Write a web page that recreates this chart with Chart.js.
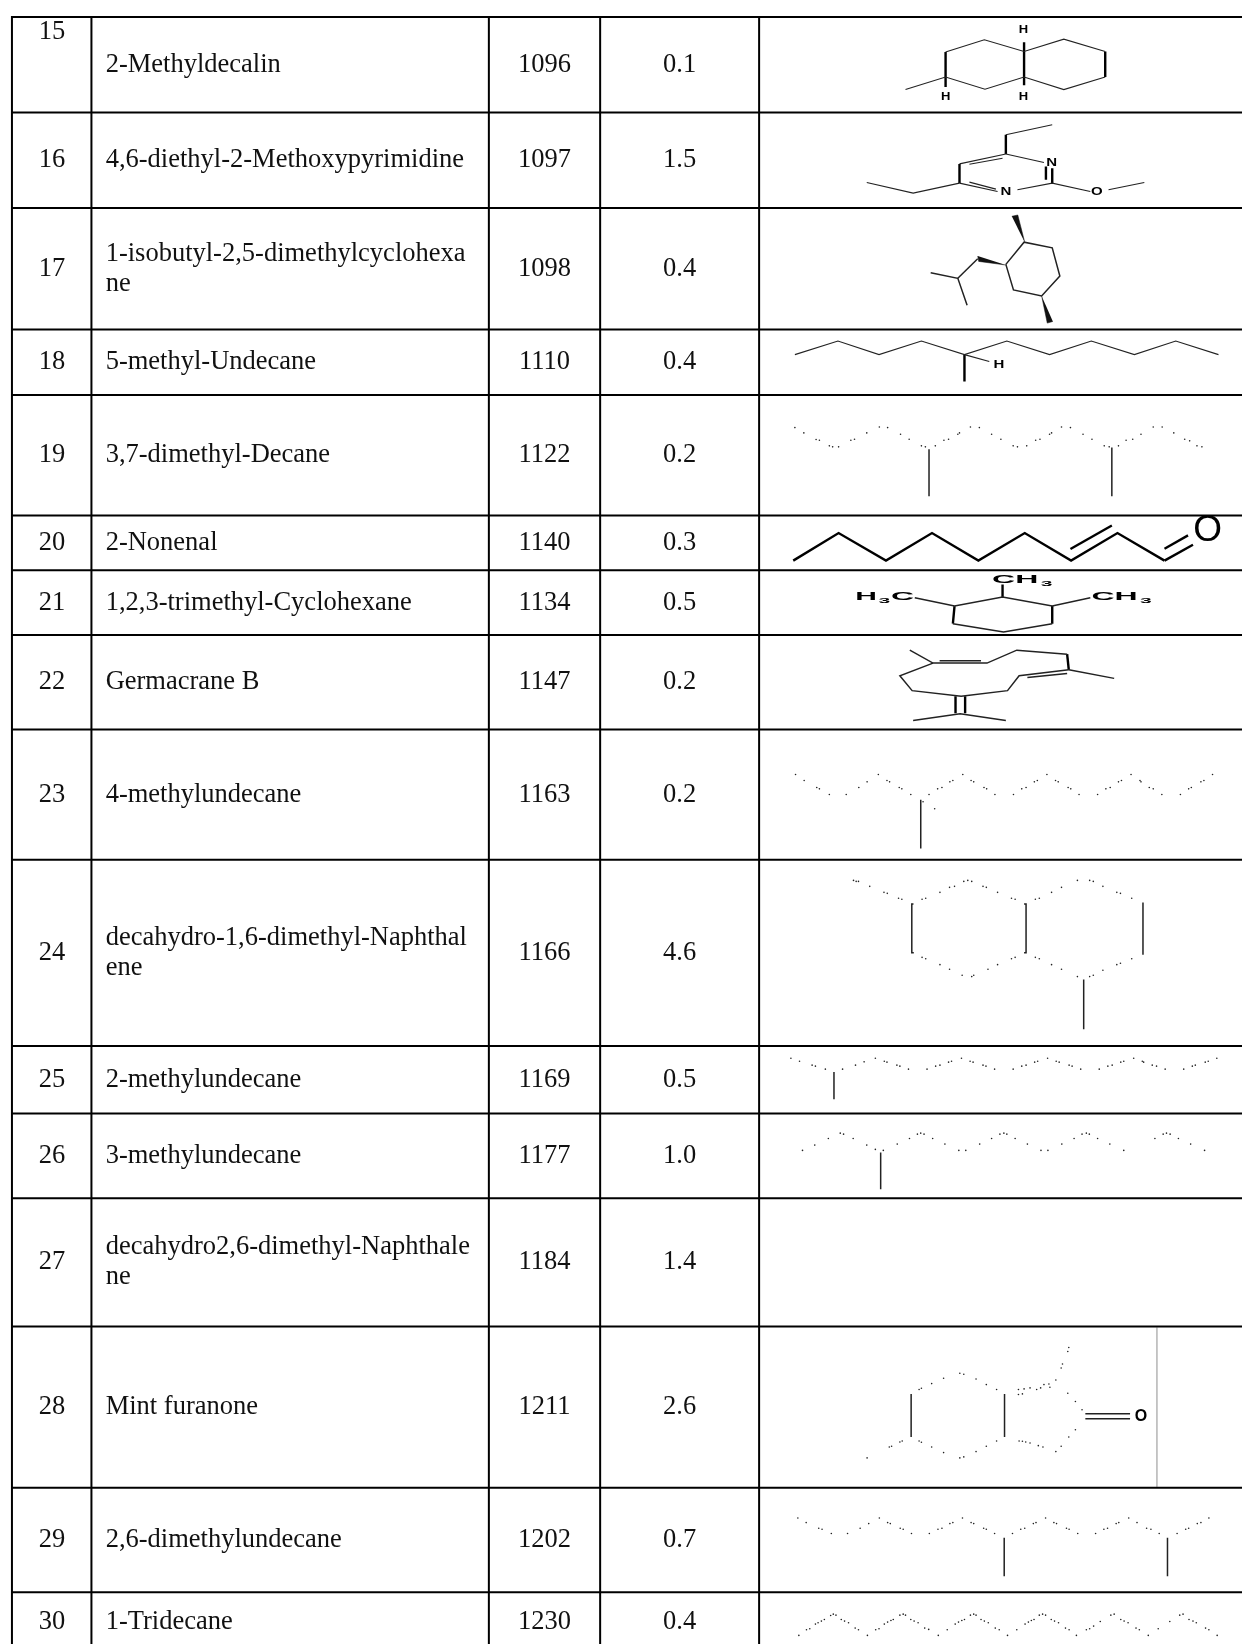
<!DOCTYPE html>
<html>
<head>
<meta charset="utf-8">
<title>Compounds</title>
<script src="https://cdn.jsdelivr.net/npm/chart.js@4"></script>
<style>
  html, body { margin: 0; padding: 0; background: #fff; overflow: hidden; }
  canvas { display: block; }
</style>
</head>
<body>
<canvas id="chart" width="1246" height="1648"></canvas>
<script>
// table content
const rowNumbers = [15, 16, 17, 18, 19, 20, 21, 22, 23, 24, 25, 26, 27, 28, 29, 30];
const compoundNames = [
    '2-Methyldecalin',
    '4,6-diethyl-2-Methoxypyrimidine',
    '1-isobutyl-2,5-dimethylcyclohexa\nne',
    '5-methyl-Undecane',
    '3,7-dimethyl-Decane',
    '2-Nonenal',
    '1,2,3-trimethyl-Cyclohexane',
    'Germacrane B',
    '4-methylundecane',
    'decahydro-1,6-dimethyl-Naphthal\nene',
    '2-methylundecane',
    '3-methylundecane',
    'decahydro2,6-dimethyl-Naphthale\nne',
    'Mint furanone',
    '2,6-dimethylundecane',
    '1-Tridecane',
];
const retentionIndex = ['1096', '1097', '1098', '1110', '1122', '1140', '1134', '1147', '1163', '1166', '1169', '1177', '1184', '1211', '1202', '1230'];
const areaPercent = ['0.1', '1.5', '0.4', '0.4', '0.2', '0.3', '0.5', '0.2', '0.2', '4.6', '0.5', '1.0', '1.4', '2.6', '0.7', '0.4'];

// rules, in page units (the last edge falls below the page)
const rowEdges = [13, 109, 205, 327, 393, 514, 569, 634, 729, 860, 1047, 1115, 1200, 1329, 1491, 1596, 1656];
const columnEdges = [8, 88, 488, 600, 760];

const crop = (left, top, pts) => pts.map(p => ({x: left + p[0] / 3, y: top + p[1] / 3}));
const cropA = pts => crop(760, 0, pts);
const cropB = pts => crop(760, 330, pts);
const cropC = pts => crop(760, 730, pts);
const cropD = pts => crop(760, 1180, pts);

const thinBonds = [
    // 15
    cropA([[442,258],[563,220],[682,257],[800,220],[920,258],[1045,220]]),
    cropA([[563,145],[680,108],[800,143],[920,106],[1045,143]]),
    // 16
    cropA([[885,364],[745,394]]),
    cropA([[745,452],[605,482]]),
    cropA([[635,483],[735,465]]),
    cropA([[605,540],[465,570],[325,538]]),
    cropA([[605,540],[720,565]]),
    cropA([[635,537],[715,558]]),
    cropA([[745,452],[860,478]]),
    cropA([[780,560],[885,540],[1000,565]]),
    cropA([[1055,560],[1163,538]]),
    // 18
    cropB([[108,67],[238,26],[362,67],[490,26],[620,67],[748,26],[877,67],[1003,26],[1133,67],[1258,26],[1387,67]]),
    cropB([[620,67],[695,88]]),
];
const mediumBonds = [
    // 17
    cropA([[518,810],[600,827],[628,908]]),
    cropA([[600,827],[660,768]]),
    cropA([[745,785],[800,718],[885,735],[908,820],[853,880],[768,862],[745,785]]),
    // 21
    cropB([[470,800],[590,825],[735,798],[885,825],[1000,800]]),
    cropB([[585,878],[738,903],[885,878]]),
    // 22
    cropB([[455,958],[525,997],[688,997],[778,958],[930,970]]),
    cropB([[545,990],[670,990]]),
    cropB([[935,1017],[1072,1043]]),
    cropB([[935,1017],[785,1035],[750,1080],[610,1097],[462,1080],[425,1035],[525,997]]),
    cropB([[810,1040],[930,1028]]),
    cropB([[465,1170],[607,1150],[745,1170]]),
    // 19, 23 to 26, 28, 29 side chains
    cropB([[513,352],[513,494]]),
    cropB([[1065,347],[1065,494]]),
    cropC([[488,209],[488,356]]),
    cropC([[466,523],[461,523],[461,670],[467,670]]),
    cropC([[800,523],[806,523],[806,670],[800,670]]),
    cropC([[1159,519],[1159,676]]),
    cropC([[980,751],[980,901]]),
    cropC([[226,1030],[226,1112]]),
    cropC([[367,1272],[367,1383]]),
    cropD([[459,650],[459,780]]),
    cropD([[741,650],[741,780]]),
    cropD([[985,710],[1120,710]]),
    cropD([[985,725],[1120,725]]),
    cropD([[740,1084],[740,1200]]),
    cropD([[1233,1084],[1233,1200]]),
];
const heavyBonds = [
    // 15
    cropA([[563,145],[563,250]]),
    cropA([[800,115],[800,245]]),
    cropA([[1045,143],[1045,220]]),
    // 16
    cropA([[745,394],[745,452]]),
    cropA([[605,482],[605,540]]),
    cropA([[885,495],[885,540]]),
    cropA([[866,490],[866,530]]),
    // 18
    cropB([[620,67],[620,148]]),
    // 20
    cropB([[103,688],[240,605],[383,688],[522,605],[662,688],[802,605],[942,688],[1082,605],[1224,688]]),
    cropB([[940,653],[1065,582]]),
    cropB([[1224,652],[1295,612]]),
    cropB([[1224,688],[1310,640]]),
    // 21
    cropB([[735,798],[735,760]]),
    cropB([[590,825],[585,878]]),
    cropB([[885,825],[885,878]]),
    // 22
    cropB([[930,970],[935,1017]]),
    cropB([[593,1097],[593,1148]]),
    cropB([[622,1097],[622,1148]]),
];
const wedgeBonds = [
    cropA([[763,640],[781,636],[802,718]]),
    cropA([[660,760],[663,776],[745,787]]),
    cropA([[853,880],[870,962],[887,957]]),
];

const dots19 = cropB([[108,287],[135,303],[172,323],[182,325],[212,342],[222,345],[240,345],[277,325],[288,322],[325,303],[363,285],[388,287],[427,307],[453,322],[490,342],[502,345],[532,342],[558,325],[572,322],[600,307],[605,303],[638,285],[665,287],[702,307],[730,322],[767,342],[780,345],[808,342],[835,325],[848,322],[877,307],[883,303],[913,285],[940,287],[978,307],[1005,322],[1042,342],[1057,345],[1085,342],[1108,325],[1128,322],[1153,307],[1190,285],[1217,285],[1252,303],[1285,322],[1300,327],[1322,342],[1337,345]]);
const dots23 = cropC([[110,133],[136,151],[174,172],[182,176],[212,193],[263,193],[301,172],[326,155],[360,133],[386,151],[394,155],[423,172],[431,176],[458,193],[513,193],[539,176],[552,172],[576,155],[585,151],[615,133],[640,151],[648,155],[679,172],[687,176],[712,193],[768,193],[793,176],[806,172],[831,155],[840,151],[869,133],[895,151],[903,155],[933,172],[941,176],[966,193],[1022,193],[1047,176],[1060,172],[1085,155],[1094,151],[1123,133],[1150,151],[1153,155],[1178,172],[1190,176],[1216,193],[1272,193],[1297,176],[1305,172],[1334,155],[1343,151],[1369,133],[495,215],[530,236]]);
const dots24 = cropC([[285,452],[293,455],[300,455],[334,470],[377,488],[387,491],[421,506],[431,509],[492,509],[503,506],[546,488],[575,473],[590,470],[618,455],[630,452],[642,455],[676,470],[686,473],[720,488],[762,506],[773,509],[834,509],[846,506],[883,488],[913,473],[961,452],[998,452],[1009,455],[1038,470],[1080,488],[1091,491],[1125,506],[492,684],[503,688],[546,706],[575,720],[613,738],[642,742],[648,738],[691,720],[720,706],[762,688],[773,684],[834,684],[846,688],[883,706],[913,720],[961,742],[998,742],[1009,738],[1038,723],[1080,706],[1091,702],[1125,688]]);
const dots25 = cropC([[96,988],[122,997],[160,1009],[170,1012],[200,1021],[252,1021],[291,1009],[317,999],[351,988],[378,997],[386,1000],[416,1009],[425,1012],[451,1021],[507,1021],[533,1012],[546,1009],[572,1000],[581,997],[611,988],[637,997],[646,1000],[676,1009],[685,1012],[711,1021],[767,1021],[793,1012],[806,1009],[832,1000],[841,997],[871,988],[897,997],[906,1000],[936,1009],[945,1012],[971,1021],[1027,1021],[1053,1012],[1066,1009],[1092,1000],[1101,997],[1131,988],[1157,997],[1161,1000],[1187,1009],[1200,1012],[1226,1021],[1282,1021],[1308,1012],[1317,1009],[1347,1000],[1356,997],[1382,988]]);
const dots26 = cropC([[131,1266],[168,1250],[209,1230],[245,1214],[255,1217],[284,1230],[325,1250],[351,1263],[375,1266],[417,1247],[454,1230],[478,1217],[488,1214],[498,1217],[524,1230],[561,1247],[603,1266],[624,1266],[666,1247],[702,1230],[727,1217],[739,1214],[748,1217],[773,1230],[810,1247],[851,1266],[872,1266],[914,1247],[951,1230],[975,1217],[988,1214],[997,1217],[1022,1230],[1059,1247],[1101,1266],[1195,1230],[1220,1217],[1230,1214],[1241,1217],[1266,1230],[1303,1247],[1345,1266]]);
const dots28 = cropD([[326,843],[393,810],[400,808],[425,795],[432,792],[483,792],[490,796],[521,810],[557,827],[606,843],[618,840],[655,824],[686,808],[717,792],[785,792],[795,793],[805,795],[818,798],[843,806],[857,810],[896,824],[912,808],[935,780],[955,758],[483,637],[490,633],[521,619],[557,603],[606,588],[618,591],[655,605],[686,622],[717,637],[783,652],[795,650],[783,637],[800,635],[818,632],[838,637],[850,632],[860,622],[875,620],[878,630],[896,608],[912,572],[916,560],[932,522],[935,510],[932,648],[955,673],[975,698]]);
const dots29 = cropD([[117,1024],[142,1038],[180,1055],[190,1058],[218,1071],[267,1071],[305,1055],[331,1041],[363,1024],[388,1038],[396,1041],[426,1055],[435,1058],[460,1071],[514,1071],[540,1058],[552,1055],[576,1041],[585,1038],[614,1024],[640,1038],[648,1041],[678,1055],[686,1058],[711,1071],[765,1071],[790,1058],[802,1055],[828,1041],[836,1038],[865,1024],[890,1038],[898,1041],[928,1055],[936,1058],[962,1071],[1016,1071],[1041,1058],[1052,1055],[1078,1041],[1086,1038],[1116,1024],[1141,1038],[1170,1055],[1183,1058],[1208,1071],[1262,1071],[1288,1058],[1297,1055],[1323,1041],[1334,1038],[1358,1024]]);
const dots30 = cropD([[120,1378],[143,1361],[153,1358],[170,1344],[178,1340],[188,1335],[197,1330],[216,1318],[224,1314],[232,1317],[248,1330],[258,1335],[270,1340],[290,1356],[300,1361],[327,1378],[352,1361],[362,1358],[378,1344],[388,1338],[398,1333],[405,1330],[425,1317],[435,1314],[442,1317],[458,1330],[468,1335],[480,1340],[500,1356],[512,1360],[541,1378],[568,1361],[592,1344],[602,1338],[612,1333],[620,1330],[638,1317],[648,1314],[655,1317],[670,1330],[680,1335],[692,1340],[713,1356],[725,1361],[750,1378],[778,1361],[803,1344],[813,1338],[822,1333],[830,1330],[846,1317],[856,1314],[865,1317],[882,1330],[892,1335],[904,1340],[925,1356],[936,1361],[958,1378],[988,1361],[998,1358],[1010,1350],[1030,1336],[1062,1317],[1072,1314],[1092,1330],[1102,1335],[1114,1340],[1138,1356],[1148,1361],[1175,1378],[1205,1358],[1240,1336],[1270,1317],[1280,1314],[1298,1330],[1310,1335],[1320,1340],[1348,1356],[1358,1361],[1383,1378]]);
const dotSeries = [dots19, dots23, dots24, dots25, dots26, dots28, dots29, dots30];

// atom labels: text, crop point, px size, x stretch
const atomLabels = [
    ['H', cropA([[798,80]])[0], 10, 1.3],
    ['H', cropA([[563,282]])[0], 10, 1.3],
    ['H', cropA([[798,282]])[0], 10, 1.3],
    ['N', cropA([[883,480]])[0], 10, 1.5],
    ['N', cropA([[745,568]])[0], 10, 1.5],
    ['O', cropA([[1020,568]])[0], 10, 1.5],
    ['H', cropB([[724,100]])[0], 10, 1.5],
    ['CH', cropB([[773,747]])[0], 10, 3.2],
    ['3', cropB([[868,759]])[0], 7, 3],
    ['H', cropB([[323,798]])[0], 10, 3],
    ['3', cropB([[378,810]])[0], 7, 3],
    ['C', cropB([[433,798]])[0], 10, 3.2],
    ['CH', cropB([[1073,799]])[0], 10, 3.2],
    ['3', cropB([[1168,810]])[0], 7, 3],
];

const SERIF = '"Liberation Serif", "Times New Roman", serif';
const SANS = '"Liberation Sans", Arial, sans-serif';

const bondSet = (data, width, color) => ({
    data, showLine: true, borderColor: color, borderWidth: width,
    pointRadius: 0, tension: 0, fill: false,
});

const datasets = [];
rowEdges.forEach(y => datasets.push(bondSet([{x: columnEdges[0], y}, {x: 1246, y}], 2, '#000')));
columnEdges.forEach(x => datasets.push(bondSet([{x, y: rowEdges[0] - 1}, {x, y: 1648}], 2, '#000')));
// stray rule inside row 28
datasets.push(bondSet(cropD([[1201,450],[1201,930]]), 1, '#bdbdbd'));

thinBonds.forEach(b => datasets.push(bondSet(b, 1.1, '#222')));
mediumBonds.forEach(b => datasets.push(bondSet(b, 1.5, '#222')));
heavyBonds.forEach(b => datasets.push(bondSet(b, 2.4, '#000')));
wedgeBonds.forEach(b => datasets.push({
    data: b, showLine: true, borderColor: '#111', borderWidth: 0.5,
    backgroundColor: '#111', pointRadius: 0, fill: 'shape',
}));
dotSeries.forEach(d => datasets.push({
    data: d, showLine: false, pointRadius: 0.8, pointBorderWidth: 0,
    pointBackgroundColor: '#222',
}));

const drawText = (ctx, text, px, py, align, stretch) => {
    ctx.save();
    ctx.translate(px, py);
    ctx.scale(stretch, 1);
    ctx.textAlign = align;
    ctx.fillText(text, 0, 0);
    ctx.restore();
};

const tableText = {
    id: 'tableText',
    afterDatasetsDraw(chart) {
        const {ctx, scales: {x, y}} = chart;
        ctx.save();
        ctx.fillStyle = '#111';
        ctx.textBaseline = 'middle';
        ctx.font = '26.5px ' + SERIF;
        rowNumbers.forEach((n, i) => {
            const cy = (rowEdges[i] + rowEdges[i + 1]) / 2;
            const numberY = n === 15 ? 28 : cy;
            drawText(ctx, String(n), x.getPixelForValue(48.3), y.getPixelForValue(numberY), 'center', 1);
            drawText(ctx, retentionIndex[i], x.getPixelForValue(544), y.getPixelForValue(cy), 'center', 1);
            drawText(ctx, areaPercent[i], x.getPixelForValue(680), y.getPixelForValue(cy), 'center', 1);
            const lines = compoundNames[i].split('\n');
            lines.forEach((line, k) => {
                const ly = cy + (k - (lines.length - 1) / 2) * 30;
                drawText(ctx, line, x.getPixelForValue(102.3), y.getPixelForValue(ly), 'left', 1);
            });
        });
        ctx.fillStyle = '#000';
        atomLabels.forEach(([text, p, size, stretch]) => {
            ctx.font = 'bold ' + size + 'px ' + SANS;
            drawText(ctx, text, x.getPixelForValue(p.x), y.getPixelForValue(p.y), 'center', stretch);
        });
        ctx.font = '37px ' + SANS;
        const nonenalO = cropB([[1354,598]])[0];
        drawText(ctx, 'O', x.getPixelForValue(nonenalO.x), y.getPixelForValue(nonenalO.y), 'center', 1);
        ctx.font = 'bold 16px ' + SANS;
        const furanoneO = cropD([[1153,717]])[0];
        drawText(ctx, 'O', x.getPixelForValue(furanoneO.x), y.getPixelForValue(furanoneO.y), 'center', 1);
        ctx.restore();
    },
};

new Chart(document.getElementById('chart').getContext('2d'), {
    type: 'scatter',
    data: {datasets},
    options: {
        responsive: false,
        animation: false,
        devicePixelRatio: 1,
        layout: {padding: 0},
        plugins: {legend: {display: false}, tooltip: {enabled: false}},
        scales: {
            x: {type: 'linear', min: 0, max: 1246, display: false},
            y: {type: 'linear', min: 0, max: 1648, reverse: true, display: false},
        },
    },
    plugins: [tableText],
});
</script>
</body>
</html>
